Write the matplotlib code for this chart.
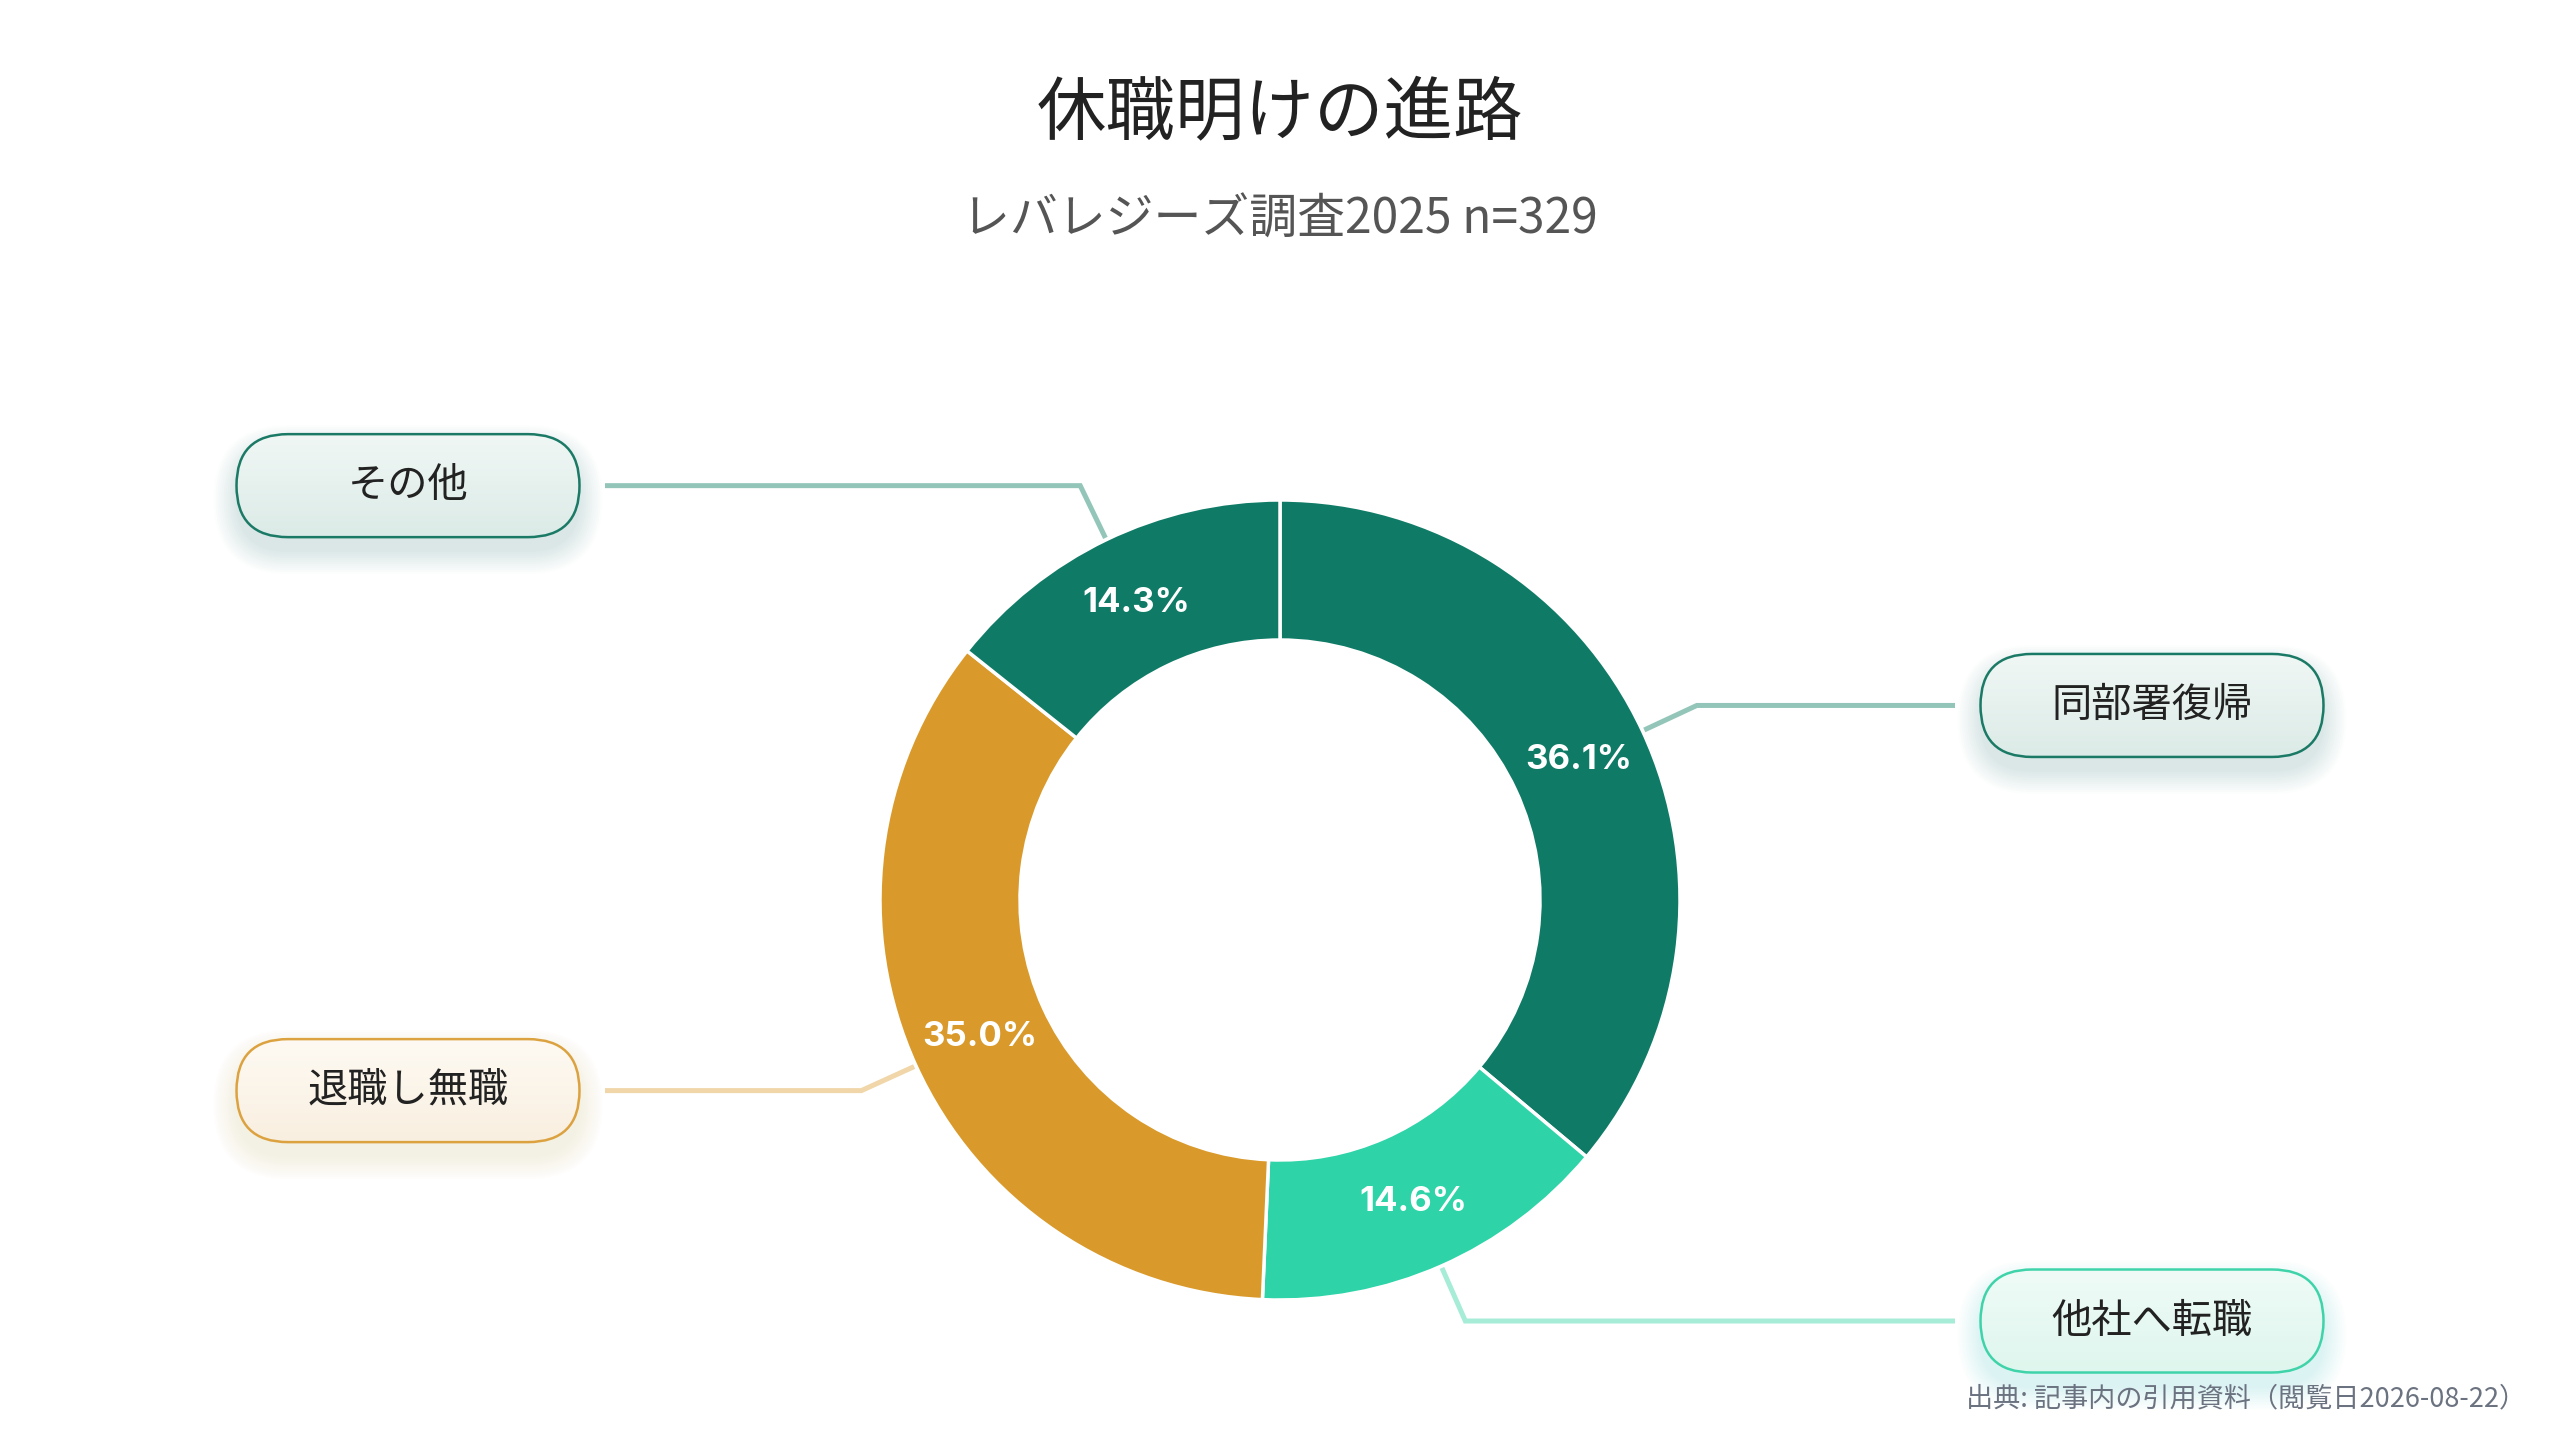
import numpy as np
import matplotlib.pyplot as plt
from matplotlib.patches import FancyBboxPatch
from matplotlib.colors import to_rgb

# data
labels = ['同部署復帰', '他社へ転職', '退職し無職', 'その他']
values = [36.1, 14.6, 35.0, 14.3]
colors = ['#0f7b66', '#2ed3a8', '#d99a2b', '#0f7b66']
line_colors = ['#93c6b9', '#a6ecd7', '#f0d6a8', '#93c6b9']
box_edges = ['#1b7a66', '#3fd3aa', '#dca240', '#1b7a66']
box_top = ['#f0f7f5', '#effbf7', '#fefaf3', '#f0f7f5']
box_bottom = ['#dcebe7', '#def6ed', '#f9efe0', '#dcebe7']
glow = ['#2f8f7a', '#35d6aa', '#e0a64a', '#2f8f7a']

title = '休職明けの進路'
subtitle = 'レバレジーズ調査2025 n=329'
source = '出典: 記事内の引用資料（閲覧日2026-08-22）'

jp = ['Noto Sans CJK JP', 'DejaVu Sans']
plt.rcParams['font.family'] = jp

W, H = 2560, 1440
fig = plt.figure(figsize=(25.6, 14.4), dpi=100)
ax = fig.add_axes([0, 0, 1, 1])

cx, cy, R = 1280, 540, 400
wedges, texts, autotexts = ax.pie(
    values, colors=colors, startangle=90, counterclock=False,
    center=(cx, cy), radius=R,
    wedgeprops=dict(width=140, edgecolor='white', linewidth=2.5),
    autopct='%.1f%%', pctdistance=0.825,
    textprops=dict(color='white', fontsize=25, fontweight='bold', family=['Inter', 'DejaVu Sans']))

# leader lines + label boxes
bw, bh = 343, 103
for i, w in enumerate(wedges):
    th = np.deg2rad((w.theta1 + w.theta2) / 2)
    x0, y0 = cx + (R + 2) * np.cos(th), cy + (R + 2) * np.sin(th)
    x1, y1 = cx + 460 * np.cos(th), cy + 460 * np.sin(th)
    side = 1 if np.cos(th) > 0 else -1
    x2 = cx + side * 675
    ax.plot([x0, x1, x2], [y0, y1, y1], color=line_colors[i], lw=3.6,
            solid_joinstyle='miter', solid_capstyle='butt', zorder=1)

    bx = cx + side * 872
    left, bottom = bx - bw / 2, y1 - bh / 2
    # soft glow, mostly below the box
    for k in range(12):
        pad = 1 + k * 2.0
        sh = FancyBboxPatch((left - pad, bottom - 14 - pad), bw + 2 * pad, bh + 2 * pad,
                            boxstyle='round,pad=0,rounding_size=%f' % (bh / 2 + pad),
                            facecolor=glow[i], edgecolor='none', alpha=0.012, zorder=1.5)
        ax.add_patch(sh)
    box = FancyBboxPatch((left, bottom), bw, bh,
                         boxstyle='round,pad=0,rounding_size=%f' % (bh / 2),
                         facecolor='none', edgecolor=box_edges[i], lw=1.8, zorder=3)
    ax.add_patch(box)
    grad = np.linspace(0, 1, 64)[:, None, None]
    img = (1 - grad) * np.array(to_rgb(box_top[i])) + grad * np.array(to_rgb(box_bottom[i]))
    im = ax.imshow(img, extent=[left, left + bw, bottom, bottom + bh], origin='upper',
                   aspect='auto', zorder=2)
    im.set_clip_path(box)
    ax.text(bx, y1, labels[i], ha='center', va='center', fontsize=29,
            color='#222222', zorder=4)

ax.set_xlim(0, W)
ax.set_ylim(0, H)
ax.set_aspect('equal')
ax.axis('off')

ax.text(W / 2, 1326, title, ha='center', va='center', fontsize=50, color='#222222')
ax.text(W / 2, 1220, subtitle, ha='center', va='center', fontsize=34.5, color='#555555')
ax.text(2526, 41, source, ha='right', va='center', fontsize=19.5, color='#6b7280')

fig.savefig('out.png', dpi=100, facecolor='white')
